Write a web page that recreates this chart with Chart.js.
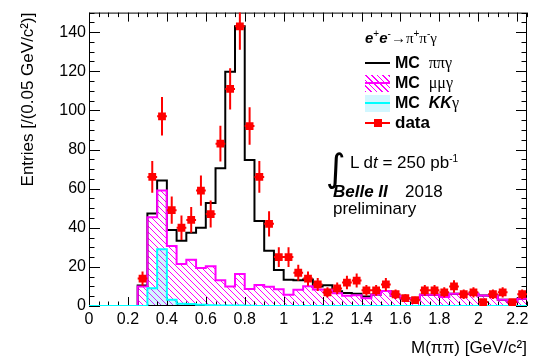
<!DOCTYPE html>
<html lang="en">

<head>
    <meta charset="UTF-8">
    <title>M(pipi) Belle II 2018</title>
    <script src="https://cdn.jsdelivr.net/npm/chart.js@4.4.1/dist/chart.umd.min.js"></script>
    <style>
        body { margin: 0; background: #fff; }
        #wrap { position: relative; width: 539px; height: 360px; font-family: 'Liberation Sans', Arial, sans-serif; color: #000; }
        #c { position: absolute; left: 0; top: 0; }
        .ov { position: absolute; white-space: nowrap; line-height: 20px; height: 20px; pointer-events: none; }
        .sym { font-family: 'Liberation Serif', 'DejaVu Serif', serif; font-weight: normal; font-style: normal; }
        sup { font-size: 10px; line-height: 0; vertical-align: 6px; }
        .mc { font-weight: bold; font-size: 16px; }
        .box { position: absolute; width: 25px; height: 17px; }
        .ln { position: absolute; width: 25px; height: 2px; }
    </style>
</head>

<body>
    <div id="wrap">
        <canvas id="c" width="539" height="360"></canvas>

        <div class="ov" style="left:365px; top:28px; font-size:15px;"><b><i>e</i></b><sup>+</sup><b><i>e</i></b><sup>-</sup><span class="sym">&rarr;&pi;</span><sup>+</sup><span class="sym">&pi;</span><sup>-</sup><span class="sym">&gamma;</span></div>

        <div class="ln" style="left:365px; top:62px; background:#000;"></div>
        <div class="ov mc" style="left:395px; top:53px;">MC&nbsp; <span class="sym">&pi;&pi;&gamma;</span></div>

        <div class="box" style="left:365px; top:75px; background: repeating-linear-gradient(45deg, #ff00ff 0 1px, transparent 1px 4px);"></div>
        <div class="ln" style="left:365px; top:82px; background:#ff00ff;"></div>
        <div class="ov mc" style="left:395px; top:73px;">MC&nbsp; <span class="sym">&mu;&mu;&gamma;</span></div>

        <div class="box" style="left:365px; top:95px; background: rgba(0, 210, 255, 0.18);"></div>
        <div class="ln" style="left:365px; top:102px; background:#00ffff;"></div>
        <div class="ov mc" style="left:395px; top:93px;">MC&nbsp; <i>KK</i><span class="sym">&gamma;</span></div>

        <div class="ln" style="left:365px; top:122px; background:#ff0000;"></div>
        <div class="box" style="left:374px; top:119px; width:8px; height:8px; background:#ff0000;"></div>
        <div class="ov mc" style="left:395px; top:113px; font-size:17px;">data</div>

        <div class="ov" style="left:326px; top:148px; height:40px; line-height:40px; font-size:38px; font-family:'DejaVu Sans', sans-serif;">&int;</div>
        <div class="ov" style="left:350px; top:153px; font-size:17px;">L d<i>t</i> = 250 pb<sup>-1</sup></div>
        <div class="ov" style="left:333px; top:182px; font-size:17px;"><b><i>Belle II</i></b></div>
        <div class="ov" style="left:405px; top:182px; font-size:17px;">2018</div>
        <div class="ov" style="left:333px; top:199px; font-size:17px;">preliminary</div>
    </div>

<script>
    // bins of 0.05 GeV, low edges
    const binLow = [0.25, 0.30, 0.35, 0.40, 0.45, 0.50, 0.55, 0.60, 0.65, 0.70,
        0.75, 0.80, 0.85, 0.90, 0.95, 1.00, 1.05, 1.10, 1.15, 1.20,
        1.25, 1.30, 1.35, 1.40, 1.45, 1.50, 1.55, 1.60, 1.65, 1.70,
        1.75, 1.80, 1.85, 1.90, 1.95, 2.00, 2.05, 2.10, 2.15, 2.20];
    const binWidth = 0.05;

    const dataCounts = [14, 66, 97, 49, 40, 44, 59, 47, 83, 111,
        143, 92, 66, 42, 25, 25, 17, 14, 11, 7,
        9, 12, 13, 8, 8, 11, 6, 4, 3, 8,
        8, 7, 10, 6, 7, 2, 6, 7, 2, 6];
    const dataErr = [3.7, 8.1, 9.8, 7.0, 6.3, 6.6, 7.7, 6.9, 9.1, 10.5,
        12.0, 9.6, 8.1, 6.5, 5.0, 5.0, 4.1, 3.7, 3.3, 2.6,
        3.0, 3.5, 3.6, 2.8, 2.8, 3.3, 2.4, 2.0, 1.7, 2.8,
        2.8, 2.6, 3.2, 2.4, 2.6, 1.4, 2.4, 2.6, 1.4, 2.4];

    // MC pi pi gamma (stacked total, black line)
    const mcPiPi = [10.5, 47.3, 64.2, 38.9, 33.3, 37.5, 40, 52.7, 70.4, 119.8,
        143, 74.7, 43.4, 28.2, 18.4, 13.4, 13.2, 13.6, 10, 10.6,
        7.6, 6.6, 6.3, 4.9, 5.9, 7.7, 5.3, 3.8, 3.8, 5.8,
        5.8, 4.6, 6.3, 6.3, 6.3, 5.4, 5.4, 3.2, 2.2, 3.7];
    // MC mu mu gamma (magenta hatched)
    const mcMuMu = [10, 45.4, 59, 30.7, 21.5, 23.7, 19.4, 20.3, 13.2, 10,
        16.4, 8.7, 10.7, 9.8, 8.6, 5.7, 8.3, 10.1, 8.4, 8.3,
        6.5, 5.3, 5.5, 3.9, 5.9, 7.7, 5.3, 3.8, 3.8, 5.8,
        5.8, 4.6, 6.3, 6.3, 6.3, 5.4, 5.4, 3.2, 2.2, 3.7];
    // MC K K gamma (cyan)
    const mcKK = [0, 9.1, 29, 3.2, 1.2, 1.0, 0.6, 0.4, 0.3, 0.2,
        0.2, 0.1, 0, 0, 0, 0, 0, 0, 0, 0,
        0, 0, 0, 0, 0, 0, 0, 0, 0, 0,
        0, 0, 0, 0, 0, 0, 0, 0, 0, 0];

    const xTicks = [0, 0.2, 0.4, 0.6, 0.8, 1, 1.2, 1.4, 1.6, 1.8, 2, 2.2];
    const yTicks = [0, 20, 40, 60, 80, 100, 120, 140];
    const xMax = 2.25;
    const yMax = 150;

    function steps(vals, startX) {
        var pts = [{ x: startX, y: 0 }, { x: binLow[0], y: 0 }];
        for (var i = 0; i < vals.length; i++) {
            pts.push({ x: binLow[i], y: vals[i] });
        }
        pts.push({ x: binLow[vals.length - 1] + binWidth, y: vals[vals.length - 1] });
        return pts;
    }

    var pts = [], vbars = [], hbars = [];
    for (var i = 0; i < dataCounts.length; i++) {
        var c = binLow[i] + binWidth / 2;
        pts.push({ x: c, y: dataCounts[i] });
        vbars.push({ x: c, y: dataCounts[i] - dataErr[i] }, { x: c, y: dataCounts[i] + dataErr[i] }, { x: c, y: null });
        hbars.push({ x: c - binWidth / 2, y: dataCounts[i] }, { x: c + binWidth / 2, y: dataCounts[i] }, { x: c, y: null });
    }

    // hatch pattern for mu mu gamma
    function hatch() {
        var s = 6;
        var cv = document.createElement('canvas');
        cv.width = s; cv.height = s;
        var g = cv.getContext('2d');
        g.strokeStyle = '#ff00ff';
        g.lineWidth = 1;
        for (var k = -s; k <= s; k += s) {
            g.beginPath();
            g.moveTo(k, 0);
            g.lineTo(k + s, s);
            g.stroke();
        }
        return g.createPattern(cv, 'repeat');
    }

    // box frame + ROOT-like inward ticks on all sides
    const frameTicks = {
        id: 'frameTicks',
        beforeDatasetsDraw(chart) {
            const { ctx, chartArea: a, scales: { x, y } } = chart;
            ctx.save();
            ctx.strokeStyle = '#000';
            ctx.lineWidth = 1;
            ctx.strokeRect(a.left + 0.5, a.top + 0.5, a.right - a.left - 1, a.bottom - a.top - 1);
            ctx.beginPath();
            for (var k = 0; k <= 45; k++) {
                var px = Math.round(x.getPixelForValue(k * 0.05)) + 0.5;
                var len = (k % 4 === 0) ? 9 : 4.5;
                ctx.moveTo(px, a.bottom); ctx.lineTo(px, a.bottom - len);
                ctx.moveTo(px, a.top); ctx.lineTo(px, a.top + len);
            }
            for (var k = 0; k <= 30; k++) {
                var py = Math.round(y.getPixelForValue(k * 5)) + 0.5;
                var len = (k % 4 === 0) ? 11 : 5.5;
                ctx.moveTo(a.left, py); ctx.lineTo(a.left + len, py);
                ctx.moveTo(a.right, py); ctx.lineTo(a.right - len, py);
            }
            ctx.stroke();
            ctx.restore();
        }
    };

    Chart.defaults.font.family = "'Liberation Sans', Arial, sans-serif";
    Chart.defaults.color = '#000';

    const myChart = new Chart(document.getElementById('c'), {
        type: 'line',
        data: {
            datasets: [
                { label: 'data', data: pts, showLine: false, pointStyle: 'rect', pointRadius: 5.5, backgroundColor: '#ff0000', borderColor: '#ff0000', borderWidth: 0, order: 0 },
                { label: 'err v', data: vbars, borderColor: '#ff0000', borderWidth: 2, pointRadius: 0, spanGaps: false, order: 1 },
                { label: 'err h', data: hbars, borderColor: '#ff0000', borderWidth: 2, pointRadius: 0, spanGaps: false, order: 1 },
                { label: 'MC KKg', data: steps(mcKK, 0), stepped: true, borderColor: '#00ffff', borderWidth: 2, pointRadius: 0, fill: 'origin', backgroundColor: 'rgba(0, 210, 255, 0.18)', order: 2 },
                { label: 'MC mumug', data: steps(mcMuMu, binLow[0]), stepped: true, borderColor: '#ff00ff', borderWidth: 2, pointRadius: 0, fill: 'origin', backgroundColor: hatch(), order: 3 },
                { label: 'MC pipig', data: steps(mcPiPi, binLow[0]), stepped: true, borderColor: '#000', borderWidth: 2, pointRadius: 0, fill: false, order: 4 }
            ]
        },
        options: {
            responsive: false,
            animation: false,
            events: [],
            devicePixelRatio: 1,
            layout: { padding: { top: 9, right: 12, left: 0, bottom: 0 } },
            plugins: {
                legend: { display: false },
                tooltip: { enabled: false },
                filler: { drawTime: 'beforeDatasetsDraw' }
            },
            scales: {
                x: {
                    type: 'linear', min: 0, max: xMax,
                    grid: { display: false, drawTicks: false },
                    border: { display: false },
                    afterBuildTicks: s => { s.ticks = xTicks.map(v => ({ value: v })); },
                    afterFit: s => { s.height = 54; },
                    ticks: { autoSkip: false, maxRotation: 0, padding: 4, font: { size: 16 }, callback: v => String(v) },
                    title: { display: true, text: 'M(ππ) [GeV/c²]', align: 'end', font: { size: 17 }, padding: { top: 0, bottom: 1 } }
                },
                y: {
                    type: 'linear', min: 0, max: yMax,
                    grid: { display: false, drawTicks: false },
                    border: { display: false },
                    afterBuildTicks: s => { s.ticks = yTicks.map(v => ({ value: v })); },
                    afterFit: s => { s.width = 89; },
                    ticks: { autoSkip: false, padding: 3, font: { size: 16 }, callback: v => String(v) },
                    title: { display: true, text: 'Entries [/(0.05 GeV/c²)]', align: 'end', font: { size: 17 }, padding: { top: 18, bottom: 0 } }
                }
            }
        },
        plugins: [frameTicks]
    });
</script>
</body>

</html>
